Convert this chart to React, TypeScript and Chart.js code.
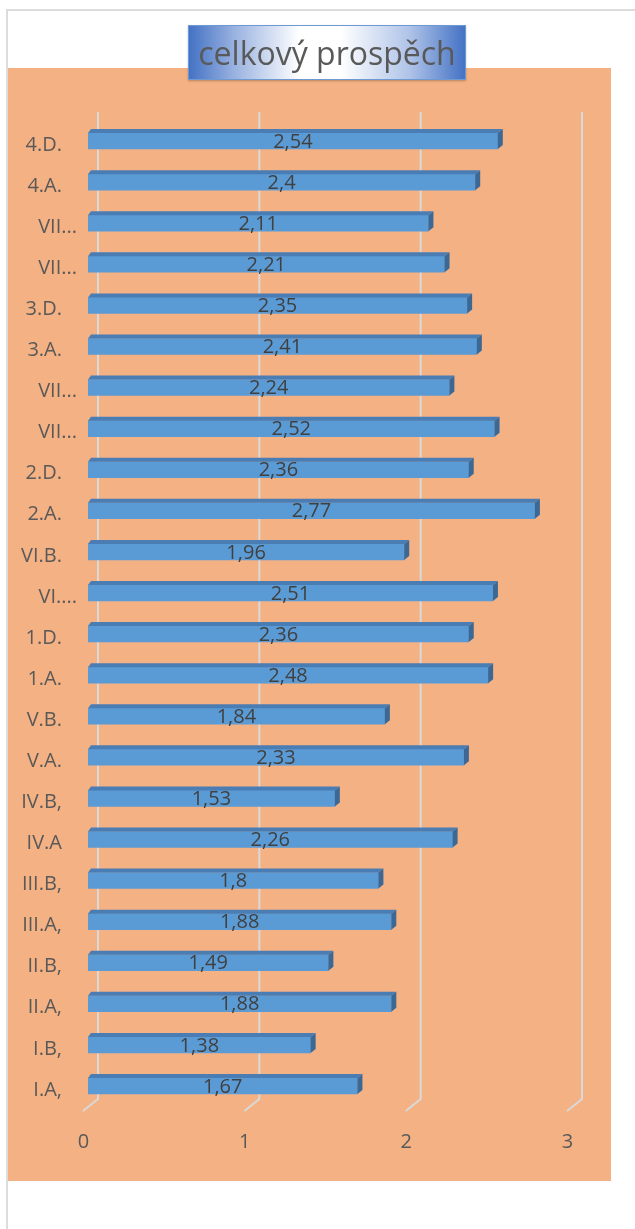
import { useEffect, useRef } from "react";
import { Chart, registerables } from "chart.js";

Chart.register(...registerables);

// Classes, listed top to bottom as they appear on the axis
const classes = [
  "4.D.", "4.A.", "VII...", "VII...", "3.D.", "3.A.", "VII...", "VII...",
  "2.D.", "2.A.", "VI.B.", "VI....", "1.D.", "1.A.", "V.B.", "V.A.",
  "IV.B,", "IV.A", "III.B,", "III.A,", "II.B,", "II.A,", "I.B,", "I.A,",
];

// Average grade of each class
const grades = [
  2.54, 2.4, 2.11, 2.21, 2.35, 2.41, 2.24, 2.52,
  2.36, 2.77, 1.96, 2.51, 2.36, 2.48, 1.84, 2.33,
  1.53, 2.26, 1.8, 1.88, 1.49, 1.88, 1.38, 1.67,
];

const axisTicks = [0, 1, 2, 3];

const FONT = "'Open Sans', 'Noto Sans', sans-serif";

const formatGrade = (v: number) => String(v).replace(".", ",");

// Orange plot background
const plotBackground = {
  id: "plotBackground",
  beforeDraw(chart: any) {
    const { ctx, width, height } = chart;
    ctx.save();
    ctx.fillStyle = "#F4B183";
    ctx.fillRect(0, 0, width, height);
    ctx.restore();
  },
};

// Gridlines on the back wall with a short slanted foot on the floor
const depthGrid = {
  id: "depthGrid",
  beforeDatasetsDraw(chart: any) {
    const { ctx, chartArea } = chart;
    const xs = chart.scales.x;
    ctx.save();
    ctx.strokeStyle = "#D9D9D9";
    ctx.lineWidth = 2;
    axisTicks.forEach((v) => {
      const px = xs.getPixelForValue(v);
      ctx.beginPath();
      ctx.moveTo(px + 10, chartArea.top - 8.5);
      ctx.lineTo(px + 10, chartArea.bottom - 7.5);
      ctx.lineTo(px - 5, chartArea.bottom + 4.5);
      ctx.stroke();
    });
    ctx.restore();
  },
};

// Category labels; shortened names sit a little further right
const categoryLabels = {
  id: "categoryLabels",
  afterDraw(chart: any) {
    const { ctx } = chart;
    const ys = chart.scales.y;
    ctx.save();
    ctx.font = `20px ${FONT}`;
    ctx.fillStyle = "#595959";
    ctx.textAlign = "right";
    ctx.textBaseline = "middle";
    classes.forEach((name, i) => {
      const py = ys.getPixelForTick(i) + 4;
      const right = name.endsWith("...") ? 69 : 54;
      ctx.fillText(name, right, py);
    });
    ctx.restore();
  },
};

// Top and side faces of each bar, then the value label
const barDepth = {
  id: "barDepth",
  afterDatasetsDraw(chart: any) {
    const { ctx } = chart;
    const meta = chart.getDatasetMeta(0);
    ctx.save();
    meta.data.forEach((bar: any) => {
      const { x, y, base, height } = bar.getProps(["x", "y", "base", "height"], true);
      const top = y - height / 2;
      const bottom = y + height / 2;
      ctx.fillStyle = "#4A7DB3";
      ctx.beginPath();
      ctx.moveTo(base, top);
      ctx.lineTo(base + 3, top - 4);
      ctx.lineTo(x + 5, top - 4);
      ctx.lineTo(x, top);
      ctx.closePath();
      ctx.fill();
      ctx.fillStyle = "#3B6894";
      ctx.beginPath();
      ctx.moveTo(x, top);
      ctx.lineTo(x + 5, top - 4);
      ctx.lineTo(x + 5, bottom - 4);
      ctx.lineTo(x, bottom);
      ctx.closePath();
      ctx.fill();
    });
    ctx.font = `20px ${FONT}`;
    ctx.fillStyle = "#404040";
    ctx.textAlign = "center";
    ctx.textBaseline = "middle";
    meta.data.forEach((bar: any, i: number) => {
      const { x, y, base } = bar.getProps(["x", "y", "base"], true);
      ctx.fillText(formatGrade(grades[i]), (x + base) / 2, y + 1);
    });
    ctx.restore();
  },
};

function GradeChart() {
  const canvasRef = useRef<HTMLCanvasElement>(null);

  useEffect(() => {
    const chart = new Chart(canvasRef.current as HTMLCanvasElement, {
      type: "bar",
      data: {
        labels: classes,
        datasets: [
          {
            data: grades,
            backgroundColor: "#5B9BD5",
            borderWidth: 0,
            barThickness: 16,
          },
        ],
      },
      options: {
        indexAxis: "y",
        animation: false,
        responsive: false,
        layout: { padding: { top: 52.5, right: 39, bottom: 0, left: 0 } },
        plugins: {
          legend: { display: false },
          title: { display: false },
          tooltip: { enabled: false },
        },
        scales: {
          x: {
            min: 0,
            max: 3,
            grid: { display: false, drawTicks: false },
            border: { display: false },
            ticks: {
              stepSize: 1,
              padding: 23.5,
              labelOffset: -4.5,
              color: "#595959",
              font: { family: FONT, size: 20 },
            },
            afterFit(scale: any) {
              scale.height = 74.5;
            },
          },
          y: {
            grid: { display: false, drawTicks: false },
            border: { display: false },
            ticks: { display: false, autoSkip: false },
            afterFit(scale: any) {
              scale.width = 80;
            },
          },
        },
      },
      plugins: [plotBackground, depthGrid, barDepth, categoryLabels],
    });
    return () => chart.destroy();
  }, []);

  return (
    <canvas
      ref={canvasRef}
      width={603}
      height={1113}
      style={{ position: "absolute", left: 8, top: 68, width: 603, height: 1113 }}
    />
  );
}

export default function App() {
  return (
    <div>
      <div
        style={{
          position: "absolute",
          left: 6,
          top: 9,
          width: 700,
          height: 1300,
          border: "2px solid #DCDCDC",
          boxSizing: "border-box",
          background: "#FFFFFF",
        }}
      />
      <GradeChart />
      <div
        style={{
          position: "absolute",
          left: 188,
          top: 25,
          width: 278,
          height: 55,
          boxSizing: "border-box",
          border: "1px solid #6E9AD3",
          background:
            "linear-gradient(90deg, #4472C4 0%, #9CB4E1 17%, #FFFFFF 40%, #FFFFFF 55%, #AFC3E8 80%, #4472C4 100%)",
          boxShadow: "0 1px 2px rgba(0,0,0,0.25)",
          color: "#595959",
          fontFamily: FONT,
          fontSize: 32,
          lineHeight: "53px",
          textAlign: "center",
          whiteSpace: "nowrap",
          zIndex: 2,
        }}
      >
        celkový prospěch
      </div>
    </div>
  );
}
